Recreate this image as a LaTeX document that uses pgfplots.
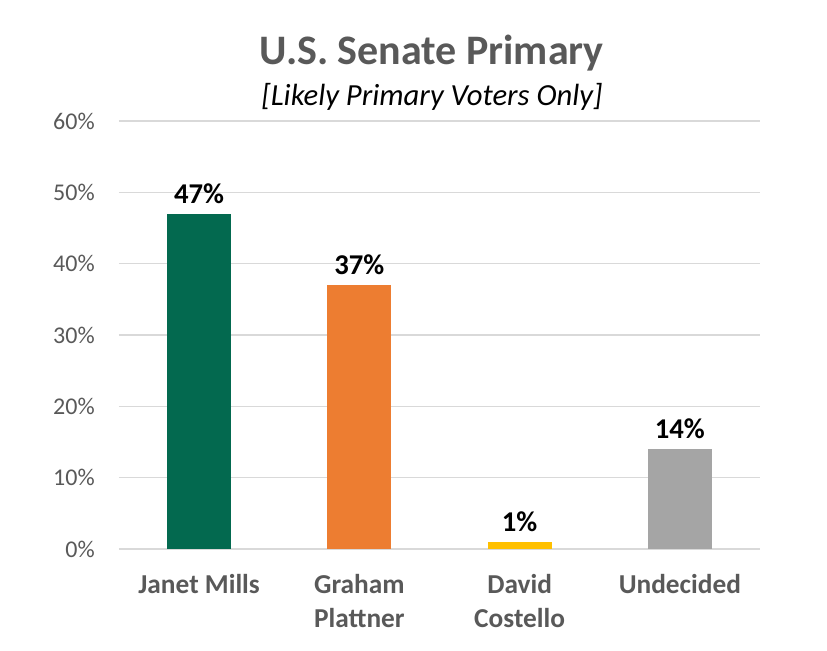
\documentclass[border=0pt]{standalone}
\usepackage{fontspec}
\setmainfont{Carlito}
\usepackage{pgfplots}
\pgfplotsset{compat=1.18}
\definecolor{cgreen}{HTML}{03694F}
\definecolor{corange}{HTML}{ED7D31}
\definecolor{cyellow}{HTML}{FFC000}
\definecolor{cgray}{HTML}{A5A5A5}
\definecolor{gridc}{HTML}{D9D9D9}
\definecolor{txt}{HTML}{595959}
\begin{document}
\begin{tikzpicture}
\path[use as bounding box] (-89.25pt,-75.75pt) rectangle (531pt,411.75pt);
\begin{axis}[
  at={(0,0)}, anchor=south west,
  scale only axis,
  width=480.75pt, height=321pt,
  xmin=-0.5, xmax=3.5, ymin=0, ymax=60,
  axis line style={draw=none},
  ytick={0,10,20,30,40,50,60},
  yticklabel={\pgfmathprintnumber{\tick}\%},
  /pgf/number format/assume math mode=true,
  yticklabel style={font=\fontsize{18}{18}\selectfont, text=txt, anchor=east, inner sep=0pt, xshift=-18pt},
  xmajorgrids=false, ymajorgrids=true,
  y grid style={color=gridc, line width=1pt},
  major tick length=0pt,
  tick style={draw=none},
  xtick={0,1,2,3},
  xticklabels={Janet Mills, Graham\\Plattner, David\\Costello, Undecided},
  xticklabel style={font=\fontsize{20.5}{25.5}\selectfont\bfseries, text=txt, align=center, anchor=north, inner sep=0pt, yshift=-19pt},
  bar width=0.4,
  ybar, bar shift=0pt,
  nodes near coords={\pgfmathprintnumber{\pgfplotspointmeta}\%},
  every node near coord/.append style={font=\fontsize{21.5}{21.5}\selectfont\bfseries, text=black, anchor=south, inner sep=0pt, yshift=7.5pt},
  clip=false,
]
\addplot[fill=cgreen, draw=none] coordinates {(0,47)};
\addplot[fill=corange, draw=none] coordinates {(1,37)};
\addplot[fill=cyellow, draw=none] coordinates {(2,1)};
\addplot[fill=cgray, draw=none] coordinates {(3,14)};
\end{axis}
\node[anchor=base, font=\fontsize{31.5}{31.5}\selectfont\bfseries, text=txt] at (234.4pt,363pt) {U.S. Senate Primary};
\node[anchor=base, font=\fontsize{23}{23}\selectfont\itshape, text=black] at (234.75pt,332.25pt) {[Likely Primary Voters Only]};
\end{tikzpicture}
\end{document}
